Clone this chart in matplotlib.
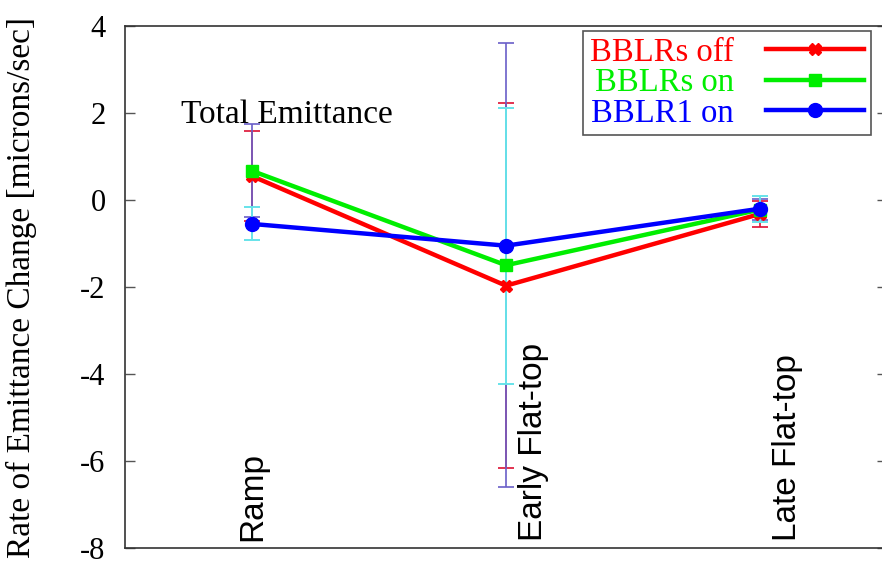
import numpy as np
import matplotlib.pyplot as plt

plt.rcParams["axes.unicode_minus"] = False

categories = ["Ramp", "Early Flat-top", "Late Flat-top"]
series_names = ["BBLRs off", "BBLRs on", "BBLR1 on"]

off_vals = [0.55, -1.97, -0.32]
off_err = [1.03, 4.2, 0.3]
on_vals = [0.67, -1.5, -0.22]
on_err = [1.07, 5.1, 0.25]
one_vals = [-0.55, -1.05, -0.2]
one_err = [0.38, 3.17, 0.3]

x = np.arange(1, len(categories) + 1)

fig = plt.figure(figsize=(8.82, 5.75), dpi=100)
ax = fig.add_axes([125 / 882, 27 / 575, 762 / 882, 522 / 575])

serif = "Liberation Serif"

# error bars first, thin, in their own colours
ax.errorbar(x, off_vals, yerr=off_err, fmt="none", ecolor="#dd1133",
            elinewidth=1.2, capsize=6, capthick=1.2, zorder=2)
ax.errorbar(x, on_vals, yerr=on_err, fmt="none", ecolor="#6a5fc8",
            elinewidth=1.2, capsize=6, capthick=1.2, zorder=2)
ax.errorbar(x, one_vals, yerr=one_err, fmt="none", ecolor="#66e3ea",
            elinewidth=1.4, capsize=6, capthick=1.4, zorder=2)

ax.plot(x, off_vals, color="#ff0000", lw=3.2, marker="X", ms=8,
        label=series_names[0], zorder=3)
ax.plot(x, on_vals, color="#00ee00", lw=3.2, marker="s", ms=9,
        label=series_names[1], zorder=4)
ax.plot(x, one_vals, color="#0000ff", lw=3.2, marker="o", ms=10,
        label=series_names[2], zorder=5)

ax.set_xlim(0.5, 3.5)
ax.set_ylim(-8, 4)
ax.set_yticks([4, 2, 0, -2, -4, -6, -8])
ax.set_xticks([])
ax.tick_params(axis="y", direction="in", length=7, width=1, color="#555555",
               labelsize=22, right=True, pad=14)
for lab in ax.get_yticklabels():
    lab.set_fontfamily(serif)
for s in ax.spines.values():
    s.set_color("#333333")
    s.set_linewidth(1.2)

ax.set_ylabel("Rate of Emittance Change [microns/sec]", fontsize=24,
              family=serif)
ax.yaxis.set_label_coords(-0.115, 0.5)

# category names sit inside the plot, rotated
label_dx = [-0.06, 0.047, 0.047]
for xi, dx, name in zip(x, label_dx, categories):
    ax.text(xi + dx, -7.85, name, rotation=90, ha="left", va="bottom",
            fontsize=24, family="Liberation Sans")

ax.text(0.72, 1.95, "Total Emittance", fontsize=24, family=serif,
        ha="left", va="center")

leg = ax.legend(loc="upper right", bbox_to_anchor=(0.985, 1.0),
                markerfirst=False, prop={"family": serif, "size": 23.5},
                handlelength=3.0, handletextpad=1.0, labelspacing=0.0,
                borderpad=0.2, fancybox=False, framealpha=1,
                edgecolor="#555555", borderaxespad=0.15)
leg.get_frame().set_linewidth(1.2)
for txt, col in zip(leg.get_texts(), ["#ff0000", "#00ee00", "#0000ff"]):
    txt.set_color(col)

fig.savefig("out.png", dpi=100)
